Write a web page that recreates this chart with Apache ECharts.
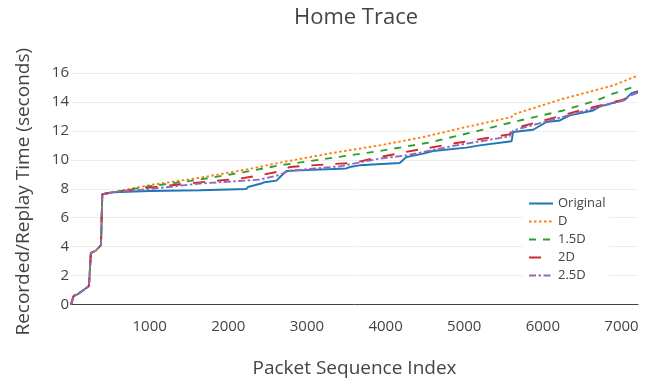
<!DOCTYPE html>
<html><head><meta charset="utf-8">
<script src="https://cdn.jsdelivr.net/npm/echarts@6/dist/echarts.min.js"></script>
<style>html,body{margin:0;padding:0;background:#fff}#c{width:662px;height:380px}</style>
</head><body><div id="c"></div>
<script>
// Shared initial segment (all series coincide)
const startX = [0, 8, 33, 88, 160, 228, 253, 313, 381, 398, 533];
const startY = [0.0, 0.12, 0.59, 0.72, 1.0, 1.28, 3.57, 3.71, 4.1, 7.62, 7.76];

// Original
const origX = [1000,1640,2230,2250,2420,2460,2612,2675,2739,2908,3500,3545,3670,4180,4265,4477,4604,5028,5198,5602,5622,5877,6047,6216,6343,6640,6725,7043,7128,7210];
const origY = [7.84,7.9,7.98,8.12,8.36,8.45,8.56,8.9,9.23,9.27,9.4,9.5,9.62,9.78,10.19,10.43,10.61,10.84,11.0,11.28,11.92,12.08,12.61,12.72,13.07,13.41,13.69,14.15,14.61,14.75];

// D
const dX = [1000,1640,2200,2700,3300,3926,4477,4986,5600,5630,6259,6894,7210];
const dY = [8.25,8.76,9.3,9.85,10.45,11.0,11.57,12.22,12.95,13.15,14.22,15.14,15.83];

// 1.5D
const d15X = [1000,1636,2200,2654,2866,3400,3926,4562,5198,5622,6259,6683,6894,7210];
const d15Y = [8.17,8.63,9.15,9.62,9.78,10.2,10.61,11.2,12.03,12.61,13.41,14.1,14.57,15.15];

// 2D
const d2X = [1000,1600,2145,2400,2650,2780,3000,3417,3587,3926,4265,4901,5576,5622,6047,6471,7021,7100,7210];
const d2Y = [8.08,8.42,8.7,8.93,9.2,9.5,9.6,9.74,9.78,10.19,10.55,11.16,11.76,12.15,12.77,13.41,14.15,14.45,14.68];

// 2.5D
const d25X = [1000,1636,2400,2650,2760,3000,3417,3926,4265,4901,5576,5622,6047,6471,7021,7100,7210];
const d25Y = [7.98,8.36,8.63,8.95,9.23,9.35,9.55,10.08,10.31,11.0,11.62,12.03,12.65,13.3,14.1,14.42,14.65];

const seriesNames = ['Original', 'D', '1.5D', '2D', '2.5D'];
const yTicks = [0, 2, 4, 6, 8, 10, 12, 14, 16];
const xTicks = [1000, 2000, 3000, 4000, 5000, 6000, 7000];

function pts(xs, ys) {
  const X = startX.concat(xs), Y = startY.concat(ys);
  return X.map((x, i) => [x, Y[i]]);
}

const font = 'Open Sans';
const txt = '#444';
const colors = ['#1f77b4', '#ff7f0e', '#2ca02c', '#d62728', '#9467bd'];
const dashes = ['solid', [2.5, 2.5], [7, 7], [12, 12], [7, 2.5, 2.5, 2.5]];
const datas = [pts(origX, origY), pts(dX, dY), pts(d15X, d15Y), pts(d2X, d2Y), pts(d25X, d25Y)];

const chart = echarts.init(document.getElementById('c'), null, {renderer: 'canvas'});
chart.setOption({
  animation: false,
  backgroundColor: '#fff',
  textStyle: {fontFamily: font},
  title: {
    text: 'Home Trace', left: 356, top: 7, textAlign: 'center', padding: 0,
    textStyle: {fontFamily: font, fontSize: 22, fontWeight: 'normal', color: txt}
  },
  grid: {left: 71, right: 24, top: 73, bottom: 75.5, containLabel: false, outerBoundsMode: 'none'},
  legend: {
    orient: 'vertical', left: 523, top: 192, padding: [5, 3, 5, 5],
    itemWidth: 24, itemHeight: 14, itemGap: 5,
    backgroundColor: '#fff',
    itemStyle: {opacity: 0},
    data: seriesNames,
    textStyle: {fontFamily: font, fontSize: 13, color: txt}
  },
  xAxis: {
    type: 'value', min: 0, max: 7210, interval: 1000,
    name: 'Packet Sequence Index', nameLocation: 'middle', nameGap: 55,
    nameTextStyle: {fontFamily: font, fontSize: 19, color: txt},
    axisLine: {show: true, lineStyle: {color: '#444', width: 1}},
    axisTick: {show: false},
    splitLine: {show: false},
    axisLabel: {
      fontFamily: font, fontSize: 15, color: txt, margin: 15,
      showMinLabel: false, showMaxLabel: false,
      formatter: v => xTicks.includes(v) ? String(v) : ''
    }
  },
  yAxis: {
    type: 'value', min: 0, max: 16, interval: 2,
    name: 'Recorded/Replay Time (seconds)', nameLocation: 'middle', nameGap: 38,
    nameTextStyle: {fontFamily: font, fontSize: 19, color: txt, padding: [0, 6, 0, 0]},
    axisLine: {show: false}, axisTick: {show: false},
    splitLine: {show: true, lineStyle: {color: '#eee', width: 1}},
    axisLabel: {
      fontFamily: font, fontSize: 15, color: txt, margin: 2,
      formatter: v => yTicks.includes(v) ? String(v) : ''
    }
  },
  series: seriesNames.map((n, i) => ({
    name: n, type: 'line', data: datas[i], symbol: 'none', showSymbol: false,
    clip: true,
    lineStyle: {color: colors[i], width: 1.9, type: dashes[i]},
    itemStyle: {color: colors[i]},
    z: 2 + i
  }))
});
</script>
</body></html>
